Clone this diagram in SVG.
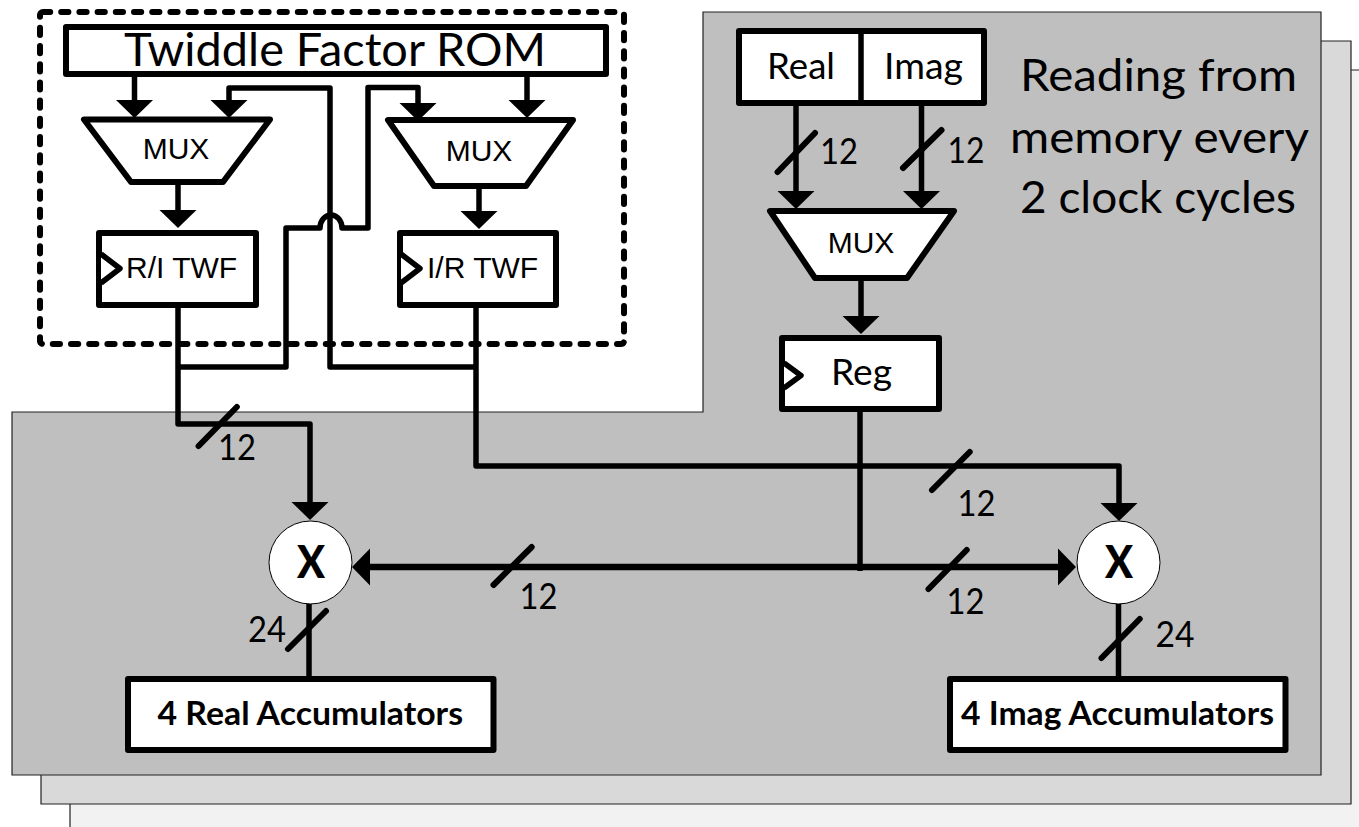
<svg xmlns="http://www.w3.org/2000/svg" width="1359" height="827" viewBox="0 0 1359 827">
<style>
.box{fill:#fff;stroke:#000;stroke-width:6;stroke-linejoin:round}
.ln{fill:none;stroke:#000;stroke-width:5.5;stroke-linejoin:round}
.ar{marker-end:url(#head)}
.tick{stroke:#000;stroke-width:6;stroke-linecap:round}
.clk{fill:#fff;stroke:#000;stroke-width:5.5;stroke-linejoin:round}
.x{fill:#fff;stroke:#000;stroke-width:1}
.ar12{font-family:"Liberation Sans",Arial,sans-serif;font-size:30px;fill:#000}
.c{font-family:Lato,"Open Sans",sans-serif;fill:#000}
.n{font-size:37px}
.b{font-weight:700}
.bg{stroke:#222;stroke-width:1.2}
</style>
<defs>
<marker id="head" markerUnits="userSpaceOnUse" markerWidth="20" markerHeight="38" refX="0" refY="18.5" orient="auto" overflow="visible">
<path d="M0,0 L18,18.5 L0,37 Z" fill="#000"/>
</marker>
</defs>
<rect width="1359" height="827" fill="#fff"/>
<g id="backgrounds">
<path class="bg" fill="#f2f2f2" d="M761,70H1380V833H70V470H761Z"/>
<path class="bg" fill="#d9d9d9" d="M732,41H1351V804H41V441H732Z"/>
<path class="bg" fill="#bfbfbf" d="M703,12H1321V775H12V412H703Z"/>
</g>
<rect id="rom-boundary" x="40" y="12" width="584" height="332" rx="3" fill="none" stroke="#000" stroke-width="6" stroke-linecap="round" stroke-dasharray="7.200 11"/>
<g id="connectors">
<path class="ln ar" d="M134.500,77V100"/>
<path class="ln ar" d="M527,77V100"/>
<path class="ln ar" d="M476,367H330V88H229V100"/>
<path class="ln ar" d="M178,367H286V228H320A11 13 0 0 1 342,228H368V87.500H418V103"/>
<path class="ln ar" d="M178,184V210"/>
<path class="ln ar" d="M479,186V211"/>
<path class="ln ar" d="M178,308V424H310V502"/>
<path class="ln ar" d="M476,308V466H1119V503"/>
<path class="ln ar" d="M796,106V191"/>
<path class="ln ar" d="M921.500,106V191"/>
<path class="ln ar" d="M861,278V316"/>
<path class="ln" d="M860,410V571"/>
<path class="ln ar" style="stroke-width:6.500" d="M860,567H370"/>
<path class="ln ar" style="stroke-width:6.500" d="M860,567H1058"/>
<path class="ln" d="M309,600V677"/>
<path class="ln" d="M1118.500,600V677"/>
<line class="tick" x1="198.600" y1="446" x2="236.800" y2="407"/>
<line class="tick" x1="932" y1="490" x2="969.700" y2="452"/>
<line class="tick" x1="493.500" y1="585" x2="531.700" y2="547"/>
<line class="tick" x1="928.500" y1="589" x2="966.700" y2="550"/>
<line class="tick" x1="288" y1="649" x2="326" y2="611"/>
<line class="tick" x1="1101.500" y1="658" x2="1139.700" y2="619"/>
<line class="tick" x1="777.600" y1="172" x2="815" y2="133"/>
<line class="tick" x1="903" y1="168" x2="941.500" y2="130"/>
<g class="c n">
<text x="218" y="460" textLength="38" lengthAdjust="spacingAndGlyphs">12</text>
<text x="957.500" y="516" textLength="38" lengthAdjust="spacingAndGlyphs">12</text>
<text x="519.500" y="609" textLength="38" lengthAdjust="spacingAndGlyphs">12</text>
<text x="946.500" y="614" textLength="38" lengthAdjust="spacingAndGlyphs">12</text>
<text x="248" y="642" textLength="38" lengthAdjust="spacingAndGlyphs">24</text>
<text x="1155.500" y="647" textLength="39" lengthAdjust="spacingAndGlyphs">24</text>
<text x="820" y="164" textLength="38" lengthAdjust="spacingAndGlyphs">12</text>
<text x="947.500" y="163" textLength="37" lengthAdjust="spacingAndGlyphs">12</text>
</g>
</g>
<g id="rom">
<rect class="box" x="66" y="27" width="540" height="47"/>
<text class="c" x="124" y="66" font-size="46" textLength="422" lengthAdjust="spacingAndGlyphs">Twiddle Factor ROM</text>
</g>
<g id="mux-left">
<path class="box" d="M84,119.500H270L223,182H131Z"/>
<text class="ar12" x="176" y="159" text-anchor="middle">MUX</text>
</g>
<g id="mux-right">
<path class="box" d="M388,120H573L526,186H434Z"/>
<text class="ar12" x="479" y="161" text-anchor="middle">MUX</text>
</g>
<g id="twf-left">
<rect class="box" x="99" y="233" width="157" height="72"/>
<path class="clk" d="M101,254L120,268.500L101,283"/>
<text class="ar12" x="126" y="278">R/I TWF</text>
</g>
<g id="twf-right">
<rect class="box" x="400" y="233" width="156" height="72"/>
<path class="clk" d="M401,254L420,268.500L401,283"/>
<text class="ar12" x="427" y="278">I/R TWF</text>
</g>
<g id="memory">
<rect class="box" x="739" y="31" width="245" height="72"/>
<line class="ln" x1="861" y1="31" x2="861" y2="104"/>
<text class="c n" x="767" y="79" textLength="68" lengthAdjust="spacingAndGlyphs">Real</text>
<text class="c n" x="884" y="79" textLength="79" lengthAdjust="spacingAndGlyphs">Imag</text>
</g>
<g id="mux-mem">
<path class="box" d="M770,211H954L907,278H815Z"/>
<text class="ar12" x="861" y="253" text-anchor="middle">MUX</text>
</g>
<g id="reg">
<rect class="box" x="782" y="338" width="157" height="71"/>
<path class="clk" d="M784,363L801,375.500L784,388"/>
<text class="c n" x="831" y="385" textLength="61" lengthAdjust="spacingAndGlyphs">Reg</text>
</g>
<g id="mult-left">
<ellipse class="x" cx="310.500" cy="562.500" rx="41.500" ry="41.500"/>
<text class="c" font-weight="900" x="297" y="578" font-size="45" textLength="28" lengthAdjust="spacingAndGlyphs">X</text>
</g>
<g id="mult-right">
<ellipse class="x" cx="1118.500" cy="562.500" rx="41.500" ry="41.500"/>
<text class="c" font-weight="900" x="1105" y="578" font-size="45" textLength="28" lengthAdjust="spacingAndGlyphs">X</text>
</g>
<g id="acc-real">
<rect class="box" x="128" y="679" width="365.500" height="71"/>
<text class="c b" x="157.500" y="725" font-size="33" textLength="305.500" lengthAdjust="spacingAndGlyphs">4 Real Accumulators</text>
</g>
<g id="acc-imag">
<rect class="box" x="950" y="679" width="335.500" height="71"/>
<text class="c b" x="961" y="725" font-size="33" textLength="313" lengthAdjust="spacingAndGlyphs">4 Imag Accumulators</text>
</g>
<g id="note" class="c" font-size="45">
<text x="1020" y="91" textLength="277" lengthAdjust="spacingAndGlyphs">Reading from</text>
<text x="1010" y="153" textLength="299" lengthAdjust="spacingAndGlyphs">memory every</text>
<text x="1020" y="213" textLength="276" lengthAdjust="spacingAndGlyphs">2 clock cycles</text>
</g>
</svg>
